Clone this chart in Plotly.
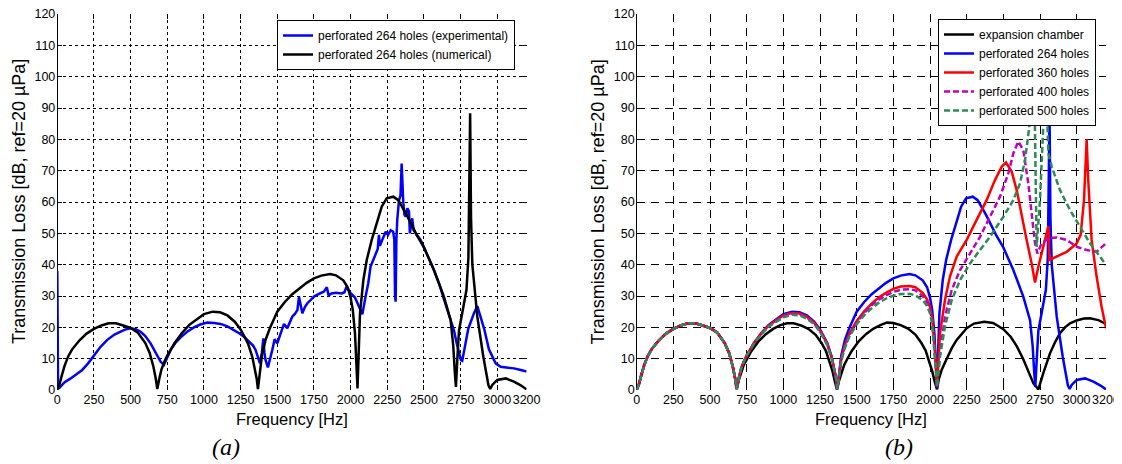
import plotly.graph_objects as go

# ---- data ----
# perforated 264 holes, numerical  (black in (a), blue in (b))
freq_264 = [0, 15, 30, 50, 75, 100, 150, 200, 250, 300, 350, 400, 450, 500, 550, 600, 630, 655, 670, 682,
            695, 710, 730, 750, 800, 850, 900, 950, 1000, 1060, 1110, 1160, 1210, 1250, 1300, 1330, 1350, 1360, 1368,
            1380, 1395, 1420, 1450, 1500, 1550, 1600, 1650, 1700, 1750, 1800, 1860, 1900, 1950, 1980, 2000, 2015,
            2030, 2040, 2047, 2064, 2087, 2110, 2144, 2178, 2212, 2246, 2291, 2325, 2382, 2450, 2500, 2568, 2636,
            2682, 2700, 2710, 2718, 2728, 2739, 2765, 2790, 2803, 2808, 2815, 2821, 2830, 2864, 2905, 2940, 2952,
            2966, 3000, 3057, 3114, 3160, 3200]
tl_264 = [0, 1.8, 4.5, 7.8, 10.8, 12.9, 15.8, 18.0, 19.5, 20.6, 21.3, 21.3, 20.6, 19.8, 18.3, 15.0, 11.8, 7.5, 4.0, 0.3,
          3.5, 6.5, 9.0, 11.0, 15.0, 18.2, 20.8, 22.6, 24.2, 25.0, 24.8, 23.8, 21.8, 19.3, 14.9, 10.5, 6.5, 3.5, 0.3,
          6.0, 11.0, 16.0, 19.8, 25.0, 28.0, 30.5, 32.5, 34.2, 35.6, 36.5, 37.0, 36.6, 35.0, 32.8, 29.5, 25.5,
          18.0, 10.0, 0.5, 24.5, 35.1, 41.5, 47.9, 53.2, 58.5, 61.2, 61.7, 60.6, 55.9, 49.5, 45.5, 38.3, 29.8,
          22.3, 14.0, 6.0, 1.0, 10.0, 19.0, 25.5, 32.0, 42.0, 60.0, 88.3, 55.0, 40.0, 23.4, 10.6, 1.5, 0.3,
          1.6, 3.2, 3.7, 2.7, 1.5, 0.2]

# perforated 264 holes, experimental (blue in (a))
freq_exp = [0, 5, 11, 50, 91, 130, 170, 210, 250, 295, 341, 390, 432, 470, 500, 535, 568, 600, 636, 660, 682,
            705, 727, 750, 773, 805, 841, 885, 932, 975, 1023, 1070, 1114, 1160, 1205, 1240, 1273, 1300, 1318, 1335,
            1352, 1368, 1382, 1395, 1405, 1412, 1420, 1436, 1450, 1466, 1482, 1500, 1523, 1546, 1568, 1585, 1602,
            1620, 1637, 1648, 1660, 1671, 1688, 1705, 1727, 1750, 1790, 1818, 1838, 1850, 1870, 1900, 1940, 1958,
            1972, 1985, 2000, 2030, 2057, 2080, 2102, 2120, 2136, 2155, 2170, 2185, 2193, 2200, 2216, 2239, 2255,
            2273, 2290, 2298, 2303, 2307, 2312, 2318, 2330, 2340, 2348, 2354, 2359, 2367, 2375, 2387, 2398, 2404,
            2412, 2420, 2430, 2443, 2460, 2477, 2500, 2534, 2568, 2607, 2636, 2668, 2705, 2725, 2739, 2753, 2761,
            2780, 2802, 2841, 2864, 2885, 2912, 2943, 2961, 2989, 3023, 3071, 3114, 3160, 3200]
tl_exp = [38.0, 3.0, 0.5, 2.5, 3.7, 5.0, 6.4, 8.5, 10.9, 13.8, 16.0, 17.7, 18.6, 19.4, 19.7, 19.4, 18.6, 17.2, 14.9, 12.8, 10.6,
          9.0, 8.0, 10.3, 12.8, 15.0, 16.8, 18.6, 20.0, 20.9, 21.5, 21.4, 21.1, 20.3, 19.1, 18.1, 17.0, 15.8, 14.9, 14.2,
          12.8, 10.5, 8.5, 12.0, 16.5, 12.0, 9.6, 7.2, 9.5, 12.8, 16.2, 14.9, 18.1, 21.1, 19.7, 21.5, 23.4,
          24.3, 25.5, 29.8, 27.0, 24.5, 26.5, 27.7, 28.7, 29.8, 30.8, 31.4, 32.8, 30.2, 30.8, 31.0, 30.8, 31.2,
          33.0, 32.0, 30.9, 29.5, 26.6, 24.2, 29.8, 34.0, 39.4, 41.5, 43.6, 45.0, 49.5, 46.0, 47.9, 50.5, 49.5,
          51.0, 50.5, 48.0, 30.0, 28.2, 48.0, 54.3, 60.6, 62.0, 72.3, 62.0, 60.0, 56.0, 55.3, 58.0, 57.0, 50.0,
          52.0, 54.8, 51.0, 50.0, 49.0, 47.9, 45.7, 42.0, 38.3, 33.5, 29.0, 24.5, 19.0, 14.5, 11.7, 9.5, 9.3,
          14.0, 19.5, 24.5, 26.8, 23.5, 19.3, 13.0, 11.2, 8.5, 7.4, 7.2, 6.9, 6.4, 5.9]

# expansion chamber (black in (b))
freq_exp_ch = [0, 15, 30, 50, 75, 100, 150, 200, 250, 300, 350, 400, 450, 500, 550, 600, 630, 655, 670, 682,
               695, 710, 730, 750, 780, 830, 880, 930, 980, 1025, 1070, 1120, 1170, 1220, 1260, 1290, 1315, 1335, 1350, 1365,
               1380, 1395, 1415, 1435, 1465, 1515, 1565, 1615, 1665, 1706, 1750, 1800, 1850, 1900, 1940, 1970, 1995, 2015, 2030, 2048,
               2060, 2080, 2114, 2150, 2182, 2250, 2300, 2370, 2430, 2500, 2550, 2591, 2636, 2670, 2705, 2739,
               2755, 2773, 2818, 2850, 2886, 2920, 2955, 3000, 3050, 3091, 3148, 3200]
tl_exp_ch = [0, 1.8, 4.5, 7.8, 10.8, 12.9, 15.8, 18.0, 19.5, 20.6, 21.3, 21.3, 20.6, 19.8, 18.3, 15.0, 11.8, 7.5, 4.0, 0.3,
             3.0, 5.5, 8.0, 9.7, 12.3, 15.5, 17.8, 19.5, 20.7, 21.3, 21.3, 20.6, 19.5, 17.6, 15.0, 12.5, 9.0, 6.0, 3.0, 0.2,
             3.0, 5.5, 8.0, 9.8, 12.4, 15.6, 17.9, 19.6, 20.8, 21.5, 21.4, 20.7, 19.6, 17.7, 15.1, 12.6, 9.0, 6.0, 3.0, 0.2,
             3.5, 6.5, 10.0, 13.5, 16.0, 19.7, 21.2, 21.8, 21.4, 19.4, 17.0, 14.0, 9.8, 6.0, 2.1, 0.2,
             3.0, 5.5, 11.7, 15.0, 18.1, 20.0, 21.3, 22.2, 22.8, 22.9, 22.3, 21.1]

# perforated 360 holes (red in (b))
freq_360 = [0, 15, 30, 50, 75, 100, 150, 200, 250, 300, 350, 400, 450, 500, 550, 600, 630, 655, 670, 682,
            695, 710, 730, 750, 800, 850, 900, 950, 1000, 1060, 1110, 1160, 1210, 1250, 1300, 1330, 1350, 1360, 1368,
            1380, 1395, 1420, 1450, 1500, 1550, 1600, 1650, 1700, 1750, 1800, 1860, 1900, 1950, 1980, 2000, 2015,
            2030, 2040, 2048, 2068, 2102, 2136, 2182, 2250, 2318, 2386, 2443, 2489, 2518, 2557, 2591, 2625, 2659,
            2693, 2716, 2739, 2773, 2795, 2807, 2814, 2864, 2932, 3000, 3027, 3050, 3068, 3080, 3102, 3136, 3170, 3200]
tl_360 = [0, 1.8, 4.5, 7.8, 10.8, 12.9, 15.8, 18.0, 19.5, 20.6, 21.3, 21.3, 20.6, 19.8, 18.3, 15.0, 11.8, 7.5, 4.0, 0.3,
          3.5, 6.5, 9.0, 11.0, 15.0, 18.1, 20.6, 22.3, 23.8, 24.6, 24.4, 23.4, 21.5, 19.0, 14.7, 10.4, 6.4, 3.5, 0.3,
          5.5, 10.0, 14.5, 18.0, 22.0, 25.0, 27.5, 29.5, 31.0, 32.3, 33.0, 33.2, 32.8, 31.0, 28.9, 26.5, 23.0,
          15.0, 8.0, 1.0, 18.1, 28.7, 36.2, 42.6, 47.9, 54.3, 60.6, 67.0, 71.3, 72.6, 69.7, 63.8, 55.3, 47.9,
          40.4, 34.3, 39.4, 45.7, 50.0, 52.3, 41.5, 42.6, 44.1, 46.8, 49.5, 60.6, 80.0, 66.0, 47.9, 36.2, 26.6, 19.7]

# perforated 400 holes (magenta dashed in (b))
freq_400 = [0, 15, 30, 50, 75, 100, 150, 200, 250, 300, 350, 400, 450, 500, 550, 600, 630, 655, 670, 682,
            695, 710, 730, 750, 800, 850, 900, 950, 1000, 1060, 1110, 1160, 1210, 1250, 1300, 1330, 1350, 1360, 1368,
            1380, 1395, 1420, 1450, 1500, 1550, 1600, 1650, 1700, 1750, 1800, 1860, 1900, 1950, 1980, 2000, 2015,
            2030, 2040, 2048, 2068, 2102, 2148, 2205, 2273, 2341, 2409, 2477, 2534, 2568, 2602, 2636, 2670, 2693,
            2716, 2732, 2761, 2807, 2864, 2932, 3000, 3068, 3136, 3200]
tl_400 = [0, 1.8, 4.5, 7.8, 10.8, 12.9, 15.8, 18.0, 19.5, 20.6, 21.3, 21.3, 20.6, 19.8, 18.3, 15.0, 11.8, 7.5, 4.0, 0.3,
          3.5, 6.5, 9.0, 11.0, 14.9, 18.0, 20.4, 22.0, 23.5, 24.3, 24.1, 23.1, 21.2, 18.8, 14.5, 10.3, 6.3, 3.4, 0.3,
          5.3, 9.7, 14.0, 17.5, 21.5, 24.5, 27.0, 28.8, 30.2, 31.3, 32.0, 32.2, 31.8, 30.0, 28.0, 25.5, 22.0,
          14.0, 7.0, 1.0, 11.7, 23.4, 31.9, 38.3, 43.6, 48.9, 55.3, 61.7, 69.1, 75.5, 79.3, 76.6, 66.0, 55.3,
          46.8, 43.6, 46.8, 48.4, 48.7, 47.9, 45.7, 44.7, 44.1, 46.8]

# perforated 500 holes (green dashed in (b))
freq_500 = [0, 15, 30, 50, 75, 100, 150, 200, 250, 300, 350, 400, 450, 500, 550, 600, 630, 655, 670, 682,
            695, 710, 730, 750, 800, 850, 900, 950, 1000, 1060, 1110, 1160, 1210, 1250, 1300, 1330, 1350, 1360, 1368,
            1380, 1395, 1420, 1450, 1500, 1550, 1600, 1650, 1700, 1750, 1800, 1860, 1900, 1950, 1980, 2000, 2015,
            2030, 2040, 2048, 2068, 2102, 2148, 2205, 2273, 2341, 2409, 2500, 2568, 2614, 2648, 2677, 2693, 2703,
            2712, 2716, 2727, 2750, 2768, 2780, 2790, 2800, 2807, 2830, 2886, 2955, 3023, 3091, 3159, 3200]
tl_500 = [0, 1.8, 4.5, 7.8, 10.8, 12.9, 15.8, 18.0, 19.5, 20.6, 21.3, 21.3, 20.6, 19.8, 18.3, 15.0, 11.8, 7.5, 4.0, 0.3,
          3.5, 6.5, 9.0, 11.0, 14.8, 17.8, 20.2, 21.8, 23.2, 24.0, 23.8, 22.8, 21.0, 18.6, 14.3, 10.2, 6.2, 3.4, 0.3,
          5.0, 9.3, 13.5, 17.0, 21.0, 23.8, 26.0, 27.8, 29.2, 30.1, 30.6, 30.7, 30.2, 28.7, 26.8, 24.5, 21.0,
          13.5, 6.5, 1.0, 10.6, 20.2, 28.7, 35.1, 40.4, 44.7, 48.9, 55.3, 60.6, 66.0, 73.4, 84.0, 92.6, 100.0,
          95.0, 82.0, 45.7, 60.6, 82.0, 92.6, 100.0, 88.0, 75.5, 71.3, 63.8, 57.4, 52.1, 46.8, 42.6, 39.9]

x_ticks = [0, 250, 500, 750, 1000, 1250, 1500, 1750, 2000, 2250, 2500, 2750, 3000, 3200]
y_ticks = [0, 10, 20, 30, 40, 50, 60, 70, 80, 90, 100, 110, 120]

# the page body keeps its default 8px margin, so the figure is 8px smaller each way
# and all positions below are page pixels minus 8
OFF = 8
W, H = 1122 - OFF, 464 - OFF
font = "Liberation Sans, Arial, sans-serif"
serif = "Liberation Serif, Times New Roman, serif"
lw = 2.5


def px(x):
    return (x - OFF) / W


def py(y):
    return 1 - (y - OFF) / H


fig = go.Figure()

# (a)
fig.add_trace(go.Scatter(x=freq_exp, y=tl_exp, mode="lines", name="perforated 264 holes (experimental)",
                         line=dict(color="#0000FF", width=lw), xaxis="x", yaxis="y", legend="legend"))
fig.add_trace(go.Scatter(x=freq_264, y=tl_264, mode="lines", name="perforated 264 holes (numerical)",
                         line=dict(color="#000000", width=lw), xaxis="x", yaxis="y", legend="legend"))

# (b)
fig.add_trace(go.Scatter(x=freq_exp_ch, y=tl_exp_ch, mode="lines", name="expansion chamber",
                         line=dict(color="#000000", width=lw), xaxis="x2", yaxis="y2", legend="legend2"))
fig.add_trace(go.Scatter(x=freq_264, y=tl_264, mode="lines", name="perforated 264 holes",
                         line=dict(color="#0000FF", width=lw), xaxis="x2", yaxis="y2", legend="legend2"))
fig.add_trace(go.Scatter(x=freq_360, y=tl_360, mode="lines", name="perforated 360 holes",
                         line=dict(color="#FF0000", width=lw), xaxis="x2", yaxis="y2", legend="legend2"))
fig.add_trace(go.Scatter(x=freq_400, y=tl_400, mode="lines", name="perforated 400 holes",
                         line=dict(color="#C000C0", width=lw, dash="6px,3px"), xaxis="x2", yaxis="y2", legend="legend2"))
fig.add_trace(go.Scatter(x=freq_500, y=tl_500, mode="lines", name="perforated 500 holes",
                         line=dict(color="#2E8B57", width=lw, dash="6px,3px"), xaxis="x2", yaxis="y2", legend="legend2"))


def xax(domain, anchor, griddash):
    return dict(domain=domain, anchor=anchor, range=[0, 3200], tickvals=x_ticks, tickangle=0,
                showgrid=True, gridcolor="black", gridwidth=1, griddash=griddash,
                showline=False, zeroline=True, zerolinecolor="black", zerolinewidth=1,
                ticks="inside", ticklen=5, tickcolor="black", mirror="ticks",
                tickfont=dict(family=font, size=12.5, color="black"), automargin=False, fixedrange=True)


def yax(domain, anchor, griddash):
    return dict(domain=domain, anchor=anchor, range=[0, 120], tickvals=y_ticks, tickangle=0,
                showgrid=True, gridcolor="black", gridwidth=1, griddash=griddash,
                showline=False, zeroline=False, ticklabelstandoff=1,
                ticks="inside", ticklen=5, tickcolor="black", mirror="ticks",
                tickfont=dict(family=font, size=12.5, color="black"), automargin=False, fixedrange=True)


ydom = [py(390), py(14)]
legend_style = dict(bgcolor="white", bordercolor="black", borderwidth=1,
                    font=dict(family=font, size=12, color="black"),
                    xanchor="right", yanchor="top", tracegroupgap=0)

fig.update_layout(
    width=W, height=H,
    margin=dict(l=0, r=0, t=0, b=0),
    paper_bgcolor="white", plot_bgcolor="white",
    xaxis=xax([px(57.3), px(526.6)], "y", "3px,3px"),
    yaxis=yax(ydom, "x", "3px,3px"),
    xaxis2=xax([px(636.7), px(1106)], "y2", "8px,6px"),
    yaxis2=yax(ydom, "x2", "8px,6px"),
    legend=dict(x=px(515), y=py(20), **legend_style),
    legend2=dict(x=px(1096), y=py(19), **legend_style),
    showlegend=True,
)

ytitle = "Transmission Loss [dB, ref=20 µPa]"
for xc, yt_x in [(291.9, 19.0), (871.4, 597.6)]:
    fig.add_annotation(x=px(yt_x), y=py(202), xref="paper", yref="paper", text=ytitle, textangle=-90,
                       showarrow=False, xanchor="center", yanchor="middle",
                       font=dict(family=font, size=18, color="black"))
    fig.add_annotation(x=px(xc), y=py(419), xref="paper", yref="paper", text="Frequency [Hz]",
                       showarrow=False, xanchor="center", yanchor="middle",
                       font=dict(family=font, size=16.5, color="black"))
for xc, lab in [(225.7, "(a)"), (899.2, "(b)")]:
    fig.add_annotation(x=px(xc), y=py(447), xref="paper", yref="paper", text=lab, showarrow=False,
                       xanchor="center", yanchor="middle", borderpad=0,
                       font=dict(family=serif, size=24, color="black", style="italic"))

fig.write_html("out.html")
